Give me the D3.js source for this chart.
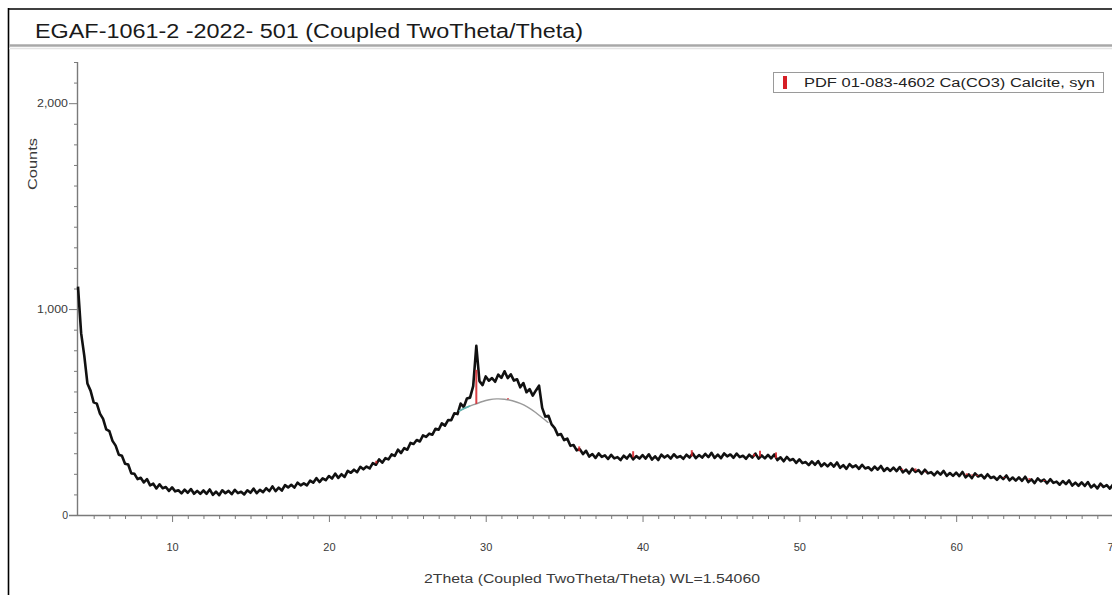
<!DOCTYPE html>
<html>
<head>
<meta charset="utf-8">
<script src="https://cdn.jsdelivr.net/npm/d3@7"></script>
<style>
  html, body { margin: 0; padding: 0; background: #fff; }
  svg { display: block; font-family: "Liberation Sans", Arial, Helvetica, sans-serif; }
</style>
</head>
<body>
<svg id="chart" width="1112" height="595"></svg>
<script>
// ---- Texts ----
const chartTitle = "EGAF-1061-2 -2022- 501 (Coupled TwoTheta/Theta)";
const xAxisTitle = "2Theta (Coupled TwoTheta/Theta) WL=1.54060";
const yAxisTitle = "Counts";
const legendLabel = "PDF 01-083-4602 Ca(CO3) Calcite, syn";

// ---- Ticks ----
const xTickValues = [10, 20, 30, 40, 50, 60, 70];
const yTickValues = [0, 1000, 2000];

// ---- Scan: 2Theta start / step and measured counts ----
const scanStart = 4.0;
const scanStep = 0.2;
const scanCounts = [
  1109, 883, 774, 639, 604, 547, 541, 492, 467, 416,
  407, 360, 337, 293, 288, 249, 245, 202, 200, 174,
  181, 158, 174, 144, 152, 129, 149, 130, 136, 117,
  134, 115, 120, 105, 123, 108, 126, 103, 117, 103,
  119, 103, 124, 98, 113, 96, 120, 106, 117, 101,
  122, 106, 113, 100, 120, 108, 128, 106, 122, 111,
  130, 116, 139, 116, 133, 119, 145, 134, 147, 133,
  157, 144, 154, 144, 167, 157, 179, 160, 178, 169,
  189, 177, 201, 180, 198, 185, 214, 205, 220, 208,
  234, 222, 235, 226, 252, 244, 270, 254, 276, 270,
  294, 287, 317, 301, 325, 317, 350, 345, 364, 357,
  387, 379, 395, 390, 419, 414, 445, 434, 461, 460,
  494, 490, 541, 524, 566, 570, 626, 822, 650, 631,
  673, 652, 665, 647, 682, 666, 698, 665, 683, 653,
  659, 620, 641, 596, 611, 580, 605, 628, 520, 478,
  482, 440, 422, 388, 393, 364, 371, 336, 340, 314,
  319, 296, 312, 284, 296, 277, 299, 282, 290, 272,
  292, 275, 281, 267, 288, 274, 294, 270, 286, 274,
  291, 274, 295, 269, 285, 267, 293, 279, 290, 274,
  295, 279, 286, 273, 293, 279, 299, 276, 291, 279,
  297, 281, 302, 277, 293, 276, 299, 285, 294, 278,
  298, 281, 288, 273, 293, 279, 298, 274, 289, 275,
  292, 275, 294, 267, 280, 261, 282, 265, 272, 253,
  270, 252, 257, 242, 260, 244, 262, 237, 251, 236,
  252, 235, 255, 229, 242, 224, 247, 232, 241, 224,
  244, 226, 232, 217, 235, 220, 238, 214, 228, 214,
  230, 213, 233, 207, 220, 202, 225, 209, 218, 200,
  220, 202, 208, 193, 211, 196, 214, 190, 204, 190,
  206, 189, 209, 183, 197, 179, 202, 187, 195, 178,
  198, 180, 186, 171, 189, 174, 192, 168, 182, 167,
  183, 166, 186, 160, 173, 155, 178, 163, 172, 154,
  174, 156, 162, 147, 165, 150, 168, 143, 157, 142,
  158, 141, 160, 134, 147, 129, 152, 136, 145, 128,
  148, 130, 136
];

// ---- Fitted amorphous hump under the main reflection ----
const humpTheta  = [28.3, 28.7, 29.0, 29.4, 29.8, 30.2, 30.7, 31.2, 31.7, 32.2, 32.7, 33.2, 33.6, 34.0];
const humpCounts = [505, 520, 530, 540, 552, 560, 565, 563, 556, 543, 524, 498, 472, 448];

// ---- Calcite reference pattern (stick lines) ----
const calciteTheta     = [23.02, 29.40, 31.42, 35.96, 39.40, 43.14, 47.11, 47.49, 48.51, 56.56, 57.40, 58.06, 60.67, 61.01, 61.34, 63.05, 64.67, 65.62, 69.21];
const calciteIntensity = [8, 100, 3, 14, 18, 18, 8, 17, 17, 4, 8, 2, 5, 3, 3, 2, 5, 3, 1];
const calciteBase      = [250, 540, 562, 310, 280, 285, 284, 284, 276, 218, 213, 207, 194, 192, 190, 180, 171, 165, 141];

// ---- Layout ----
const svg = d3.select("#chart");
const W = 1112, H = 595;
const x = d3.scaleLinear().domain([4, 70]).range([78, 1113]);
const y = d3.scaleLinear().domain([0, 2200]).range([515, 62]);
const stickScale = 1.65; // counts per % relative intensity
const axisColor = "#7a7a7a";
const labelColor = "#3a3a3a";

svg.append("rect").attr("width", W).attr("height", H).attr("fill", "#fff");

// Frame and title band
svg.append("line").attr("x1", 8).attr("x2", W).attr("y1", 9).attr("y2", 9)
  .attr("stroke", "#000").attr("stroke-width", 1.6);
svg.append("line").attr("x1", 8.5).attr("x2", 8.5).attr("y1", 8).attr("y2", H)
  .attr("stroke", "#000").attr("stroke-width", 1.6);
svg.append("line").attr("x1", 9).attr("x2", W).attr("y1", 45.5).attr("y2", 45.5)
  .attr("stroke", "#a8a8a8").attr("stroke-width", 2.5);
svg.append("line").attr("x1", 9).attr("x2", W).attr("y1", 48.5).attr("y2", 48.5)
  .attr("stroke", "#e4e4e4").attr("stroke-width", 1.5);

svg.append("text")
  .attr("x", 35).attr("y", 38)
  .attr("font-size", 20).attr("fill", "#1a1a1a")
  .attr("textLength", 548).attr("lengthAdjust", "spacingAndGlyphs")
  .text(chartTitle);

// ---- Axes ----
const xMinor = d3.range(5, 71, 1).filter(v => !xTickValues.includes(v));
const yMinor = d3.range(100, 2201, 100).filter(v => !yTickValues.includes(v));

const gx = svg.append("g").attr("transform", `translate(0,${y(0)})`);
gx.call(d3.axisBottom(x).tickValues(xMinor).tickSize(4).tickSizeOuter(0).tickFormat(""));
gx.call(g => g.select(".domain").remove());
const gxMajor = svg.append("g").attr("transform", `translate(0,${y(0)})`);
gxMajor.call(d3.axisBottom(x).tickValues(xTickValues).tickSize(7).tickSizeOuter(0).tickPadding(21).tickFormat(d3.format("d")));
gxMajor.select(".domain").remove();
gxMajor.selectAll("text").attr("font-size", 11).attr("fill", labelColor)
  .attr("font-family", '"Liberation Sans", Arial, sans-serif');
svg.append("line").attr("x1", 69).attr("x2", W).attr("y1", y(0) + 0.5).attr("y2", y(0) + 0.5)
  .attr("stroke", axisColor).attr("stroke-width", 1.4);

const gy = svg.append("g").attr("transform", `translate(${x(4)},0)`);
gy.call(d3.axisLeft(y).tickValues(yMinor).tickSize(4).tickSizeOuter(0).tickFormat(""));
gy.select(".domain").remove();
const gyMajor = svg.append("g").attr("transform", `translate(${x(4)},0)`);
gyMajor.call(d3.axisLeft(y).tickValues(yTickValues).tickSize(9).tickSizeOuter(0).tickPadding(1).tickFormat(d3.format(",")));
gyMajor.select(".domain").remove();
gyMajor.selectAll("text")
  .attr("font-size", 10.5).attr("fill", labelColor)
  .attr("font-family", '"Liberation Sans", Arial, sans-serif')
  .each(function (d) {
    if (d >= 1000) d3.select(this).attr("textLength", 31).attr("lengthAdjust", "spacingAndGlyphs");
  });
svg.append("line").attr("x1", x(4) - 0.5).attr("x2", x(4) - 0.5).attr("y1", y(0) + 1).attr("y2", y(2200))
  .attr("stroke", axisColor).attr("stroke-width", 1.4);

[gx, gxMajor, gy, gyMajor].forEach(g => g.selectAll("line").attr("stroke", axisColor).attr("stroke-width", 1));

// Axis titles
svg.append("text")
  .attr("transform", "translate(37,164) rotate(-90)")
  .attr("text-anchor", "middle")
  .attr("font-size", 12.5).attr("fill", labelColor)
  .attr("textLength", 52).attr("lengthAdjust", "spacingAndGlyphs")
  .text(yAxisTitle);

svg.append("text")
  .attr("x", 424).attr("y", 583)
  .attr("font-size", 12.5).attr("fill", labelColor)
  .attr("textLength", 336).attr("lengthAdjust", "spacingAndGlyphs")
  .text(xAxisTitle);

// ---- Scan trace ----
const scan = scanCounts.map((c, i) => ({ t: scanStart + i * scanStep, c }));
const plot = svg.append("g");
plot.append("path")
  .datum(scan)
  .attr("fill", "none")
  .attr("stroke", "#111")
  .attr("stroke-width", 2.6)
  .attr("stroke-linejoin", "round")
  .attr("d", d3.line().x(d => x(d.t)).y(d => y(d.c)));

// ---- Amorphous hump ----
const hump = humpTheta.map((t, i) => ({ t, c: humpCounts[i] }));
const humpLine = d3.line().curve(d3.curveBasis).x(d => x(d.t)).y(d => y(d.c));
plot.append("path").datum(hump)
  .attr("fill", "none").attr("stroke", "#9a9a9a").attr("stroke-width", 1.4)
  .attr("d", humpLine);
plot.append("path").datum(hump.slice(0, 3))
  .attr("fill", "none").attr("stroke", "#5bb5b0").attr("stroke-width", 1.6)
  .attr("d", humpLine);

// ---- Calcite sticks ----
const sticks = calciteTheta.map((t, i) => ({ t, rel: calciteIntensity[i], base: calciteBase[i] }));
plot.selectAll("line.stick")
  .data(sticks)
  .join("line")
  .attr("class", "stick")
  .attr("x1", d => x(d.t)).attr("x2", d => x(d.t))
  .attr("y1", d => y(d.base))
  .attr("y2", d => y(d.base + d.rel * stickScale))
  .attr("stroke", "#d61f26")
  .attr("stroke-width", 2)
  .attr("opacity", 0.85);

// ---- Legend ----
const legend = svg.append("g");
legend.append("rect")
  .attr("x", 773.5).attr("y", 72.5).attr("width", 330).attr("height", 20)
  .attr("fill", "#fff").attr("stroke", "#9a9a9a").attr("stroke-width", 1);
legend.append("rect")
  .attr("x", 783).attr("y", 76).attr("width", 4).attr("height", 13)
  .attr("fill", "#d61f26");
legend.append("text")
  .attr("x", 804).attr("y", 87)
  .attr("font-size", 12.5).attr("fill", "#222")
  .attr("textLength", 291).attr("lengthAdjust", "spacingAndGlyphs")
  .text(legendLabel);
</script>
</body>
</html>
